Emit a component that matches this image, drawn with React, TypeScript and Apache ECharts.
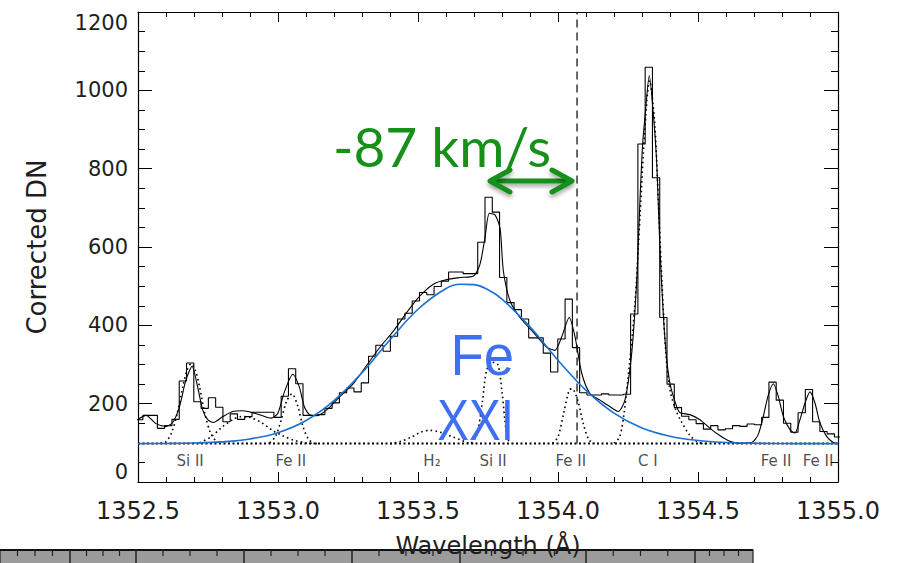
import React, { useEffect, useRef } from "react";
import * as echarts from "echarts";

// ---- axis ranges ----
const WAVE_MIN = 1352.5;
const WAVE_MAX = 1355.0;
const WAVE_TICK = 0.5;
const DN_MIN = 0;
const DN_MAX = 1200;
const DN_TICK = 200;

// ---- observed spectrum (histogram), IRIS spectral bins ----
const BIN_START = 1352.4913;
const BIN_WIDTH = 0.026;
const observedCounts = [
  159, 170, 170, 137, 144, 160, 258, 304, 205, 188,
  215, 191, 154, 174, 160, 167, 178, 178, 178, 165,
  219, 289, 251, 170, 170, 172, 188, 202, 228, 240,
  230, 253, 321, 349, 334, 372, 416, 431, 462, 484,
  478, 499, 513, 536, 536, 532, 532, 612,
  727, 689, 522, 458, 440, 416, 368, 368, 329, 281,
  365, 467, 343, 228, 222, 222, 225, 222, 222, 224,
  429, 863, 1059, 777, 420, 250, 190, 168, 159, 149,
  135, 144, 133, 136, 144, 142, 148, 146, 165, 255,
  209, 150, 127, 177, 236, 154, 129, 123, 115,
];

// ---- total fit (solid black) ----
const fitWave = [
  1352.500, 1352.529, 1352.564, 1352.600, 1352.624, 1352.648, 1352.671, 1352.693, 1352.713, 1352.731,
  1352.749, 1352.769, 1352.803, 1352.838, 1352.874, 1352.910, 1352.945, 1352.975, 1352.999, 1353.023,
  1353.053, 1353.076, 1353.094, 1353.114, 1353.138, 1353.174, 1353.221, 1353.269, 1353.317, 1353.364,
  1353.412, 1353.460, 1353.507, 1353.555, 1353.603, 1353.650, 1353.698, 1353.721, 1353.739, 1353.755,
  1353.775, 1353.793, 1353.805, 1353.829, 1353.864, 1353.912, 1353.960, 1353.989, 1354.013, 1354.040,
  1354.061, 1354.085, 1354.114, 1354.150, 1354.186, 1354.215, 1354.239, 1354.263, 1354.281, 1354.293,
  1354.302, 1354.311, 1354.326, 1354.341, 1354.353, 1354.364, 1354.376, 1354.386, 1354.400, 1354.424,
  1354.436, 1354.471, 1354.507, 1354.543, 1354.579, 1354.614, 1354.650, 1354.692, 1354.715, 1354.733,
  1354.751, 1354.769, 1354.787, 1354.805, 1354.829, 1354.846, 1354.864, 1354.882, 1354.900, 1354.918,
  1354.936, 1354.960, 1354.983, 1355.000,
];
const fitValue = [
  160, 170, 149, 142, 152, 192, 260, 295, 243, 184,
  159, 152, 167, 180, 182, 177, 169, 163, 175, 230,
  275, 243, 192, 171, 169, 184, 218, 251, 298, 344,
  385, 433, 475, 505, 517, 522, 526, 555, 623, 686,
  682, 648, 538, 462, 420, 382, 344, 336, 370, 420,
  370, 277, 226, 209, 192, 180, 209, 327, 513, 724,
  859, 935, 1038, 935, 808, 597, 429, 330, 251, 192,
  177, 172, 159, 137, 118, 104, 99, 101, 121, 167,
  222, 251, 218, 167, 133, 125, 159, 201, 230, 201,
  150, 116, 101, 98,
];

// ---- Fe XXI component (blue) ----
const feXXIWave = [
  1352.5, 1352.6, 1352.7, 1352.8, 1352.9, 1353.0, 1353.1, 1353.2, 1353.3, 1353.4,
  1353.5, 1353.6, 1353.65, 1353.7, 1353.75, 1353.8, 1353.9, 1354.0, 1354.1, 1354.2,
  1354.3, 1354.4, 1354.5, 1354.6, 1354.7, 1354.8, 1354.9, 1355.0,
];
const feXXIValue = [
  98, 98.4, 99.5, 102.5, 110, 126, 157, 208, 279, 363,
  441, 494, 505, 504, 491, 467, 396, 311, 234, 176,
  138, 117, 106, 101, 99, 98.3, 98, 98,
];

// ---- narrow line components (dotted) ----
const BASELINE = 98;
const componentWaves = [
  [1352.58, 1352.60, 1352.62, 1352.64, 1352.66, 1352.675, 1352.69, 1352.705, 1352.72, 1352.74, 1352.76, 1352.78, 1352.80],
  [1352.72, 1352.76, 1352.80, 1352.84, 1352.87, 1352.90, 1352.94, 1352.98, 1353.02, 1353.06, 1353.10, 1353.14],
  [1352.97, 1352.99, 1353.01, 1353.03, 1353.05, 1353.07, 1353.09, 1353.11, 1353.13],
  [1353.40, 1353.44, 1353.48, 1353.51, 1353.54, 1353.58, 1353.62, 1353.65, 1353.68, 1353.71],
  [1353.69, 1353.71, 1353.73, 1353.745, 1353.765, 1353.785, 1353.80, 1353.81, 1353.82, 1353.835],
  [1353.98, 1354.00, 1354.02, 1354.04, 1354.05, 1354.07, 1354.09, 1354.11, 1354.13],
  [1354.20, 1354.22, 1354.235, 1354.255, 1354.275, 1354.293, 1354.31, 1354.327, 1354.345, 1354.36, 1354.372, 1354.385, 1354.40, 1354.42, 1354.44, 1354.47, 1354.50, 1354.53],
];
const componentValues = [
  [98.5, 103, 126, 175, 243, 285, 302, 285, 243, 170, 124, 104, 99],
  [100, 115, 140, 160, 167, 165, 152, 132, 117, 106, 100, 98],
  [100, 115, 155, 205, 225, 195, 140, 108, 99],
  [98, 104, 116, 127, 132, 127, 116, 108, 100, 98],
  [99, 120, 205, 285, 306, 300, 230, 160, 110, 99],
  [99, 115, 175, 235, 238, 210, 150, 108, 99],
  [99, 115, 170, 300, 455, 680, 900, 1025, 920, 690, 500, 330, 235, 185, 155, 120, 102, 98],
];

// ---- line identifications ----
const lineNames = ["Si II", "Fe II", "H₂", "Si II", "Fe II", "C I", "Fe II", "Fe II"];
const lineLabelWave = [1352.686, 1353.046, 1353.550, 1353.768, 1354.046, 1354.321, 1354.779, 1354.929];
const LABEL_DN = 53;

// ---- reference (rest) wavelength ----
const REST_WAVE = 1354.068;

const AXIS_FONT = "'DejaVu Sans', sans-serif";
const TITLE_FONT = "Lato, 'Open Sans', sans-serif";
const ANNOT_FONT = "'Liberation Sans', Arial, sans-serif";
const GREEN = "#17901a";
const BLUE_TEXT = "#3f6ff2";
const BLUE_LINE = "#1c6fd3";
const INK = "#1e1e1e";

export default function App() {
  const ref = useRef<HTMLDivElement>(null);

  useEffect(() => {
    if (!ref.current) return;
    const chart = echarts.init(ref.current, null, { renderer: "svg" });

    const histData: number[][] = observedCounts.map((v, i) => [BIN_START + i * BIN_WIDTH, v]);
    histData.push([BIN_START + observedCounts.length * BIN_WIDTH, observedCounts[observedCounts.length - 1]]);

    const fitData = fitWave.map((w, i) => [w, fitValue[i]]);
    const feData = feXXIWave.map((w, i) => [w, feXXIValue[i]]);

    const dotted = { color: "#000", width: 1.6, type: [1.6, 3.2] as number[] };

    const componentSeries = componentWaves.map((ws, j) => ({
      type: "line",
      data: ws.map((w, i) => [w, componentValues[j][i]]),
      smooth: 0.3,
      showSymbol: false,
      silent: true,
      lineStyle: dotted,
      z: 3,
    }));

    // decorative ruler strip at the bottom of the picture
    const rulerMajors = [0, 70, 136, 244, 352, 460, 586, 695, 753];
    const rulerChildren: any[] = [
      { type: "rect", shape: { x: 0, y: 550, width: 753, height: 14 }, style: { fill: "#9b9b9b", stroke: "#222", lineWidth: 1.2 } },
      { type: "line", shape: { x1: 0, y1: 550, x2: 753, y2: 550 }, style: { stroke: "#111", lineWidth: 2 } },
    ];
    for (let i = 0; i < rulerMajors.length - 1; i++) {
      const a = rulerMajors[i];
      const b = rulerMajors[i + 1];
      if (i > 0) rulerChildren.push({ type: "line", shape: { x1: a, y1: 550, x2: a, y2: 563 }, style: { stroke: "#222", lineWidth: 1.5 } });
      for (let k = 1; k < 4; k++) {
        const x = a + ((b - a) * k) / 4;
        rulerChildren.push({ type: "line", shape: { x1: x, y1: 550, x2: x, y2: 556 }, style: { stroke: "#222", lineWidth: 1.2 } });
      }
    }

    const shadow = { shadowBlur: 4, shadowColor: "rgba(0,0,0,0.35)", shadowOffsetY: 3 };
    const chevronStyle = {
      stroke: GREEN,
      lineWidth: 5,
      fill: null,
      lineCap: "round",
      lineJoin: "round",
      ...shadow,
    };

    const axisCommonX = {
      type: "value",
      min: WAVE_MIN,
      max: WAVE_MAX,
      interval: WAVE_TICK,
      axisLine: { show: true, onZero: false, lineStyle: { color: "#000", width: 1.2 } },
      axisTick: { show: true, inside: true, length: 10, lineStyle: { color: "#000", width: 1 } },
      minorTick: { show: true, splitNumber: 5, length: 5, lineStyle: { color: "#000", width: 1 } },
      splitLine: { show: false },
      minorSplitLine: { show: false },
    };
    const axisCommonY = {
      type: "value",
      min: DN_MIN,
      max: DN_MAX,
      interval: DN_TICK,
      axisLine: { show: true, onZero: false, lineStyle: { color: "#000", width: 1.2 } },
      axisTick: { show: true, inside: true, length: 14, lineStyle: { color: "#000", width: 1 } },
      minorTick: { show: true, splitNumber: 4, length: 7, lineStyle: { color: "#000", width: 1 } },
      splitLine: { show: false },
      minorSplitLine: { show: false },
    };

    const option: any = {
      animation: false,
      backgroundColor: "#fff",
      grid: { left: 138, right: 59, top: 12, bottom: 77, containLabel: false },
      xAxis: [
        {
          ...axisCommonX,
          position: "bottom",
          name: "Wavelength (Å)",
          nameLocation: "middle",
          nameGap: 52,
          nameTextStyle: { fontFamily: AXIS_FONT, fontSize: 24, color: INK },
          axisLabel: {
            show: true,
            margin: 17,
            fontFamily: AXIS_FONT,
            fontSize: 24,
            color: INK,
            formatter: (v: number) => v.toFixed(1),
          },
        },
        { ...axisCommonX, position: "top", axisLabel: { show: false } },
      ],
      yAxis: [
        {
          ...axisCommonY,
          position: "left",
          name: "Corrected DN",
          nameLocation: "middle",
          nameRotate: 90,
          nameGap: 88,
          nameTextStyle: { fontFamily: AXIS_FONT, fontSize: 26, color: INK },
          axisLabel: {
            show: true,
            margin: 10,
            fontFamily: AXIS_FONT,
            fontSize: 21,
            color: INK,
            formatter: (v: number) => String(v),
            verticalAlignMinLabel: "bottom",
            verticalAlignMaxLabel: "top",
          },
        },
        { ...axisCommonY, position: "right", axisLabel: { show: false } },
      ],
      series: [
        {
          type: "line",
          data: histData,
          step: "end",
          showSymbol: false,
          silent: true,
          lineStyle: { color: "#000", width: 1.1 },
          z: 2,
        },
        {
          type: "line",
          data: fitData,
          smooth: 0.25,
          showSymbol: false,
          silent: true,
          lineStyle: { color: "#000", width: 1.1 },
          z: 4,
        },
        ...componentSeries,
        {
          type: "line",
          data: [[WAVE_MIN, BASELINE], [WAVE_MAX, BASELINE]],
          showSymbol: false,
          silent: true,
          lineStyle: { color: "#000", width: 2, type: [2, 2.5] },
          z: 3,
        },
        {
          type: "line",
          data: feData,
          smooth: 0.4,
          showSymbol: false,
          silent: true,
          lineStyle: { color: BLUE_LINE, width: 1.6 },
          z: 5,
        },
        {
          type: "line",
          data: [[REST_WAVE, BASELINE], [REST_WAVE, DN_MAX]],
          showSymbol: false,
          silent: true,
          lineStyle: { color: "#000", width: 1.2, type: [8, 5] },
          z: 5,
        },
        {
          type: "scatter",
          data: lineLabelWave.map((w, i) => ({ value: [w, LABEL_DN], name: lineNames[i] })),
          symbolSize: 1,
          silent: true,
          itemStyle: { color: "rgba(0,0,0,0)" },
          label: {
            show: true,
            position: "inside",
            formatter: "{b}",
            fontFamily: AXIS_FONT,
            fontSize: 15,
            lineHeight: 15,
            color: INK,
          },
          z: 6,
        },
      ],
      graphic: [
        { type: "group", z: -10, children: rulerChildren },
        {
          type: "text",
          x: 333,
          y: 146,
          z: 20,
          style: { text: "-87 km/s", fontFamily: TITLE_FONT, fontSize: 55, lineHeight: 50, fill: GREEN, textAlign: "left", textVerticalAlign: "middle" },
        },
        {
          type: "group",
          z: 20,
          children: [
            { type: "rect", shape: { x: 494, y: 178.5, width: 74, height: 5 }, style: { fill: GREEN, ...shadow } },
            { type: "polyline", shape: { points: [[510, 170], [490, 181], [510, 192]] }, style: chevronStyle },
            { type: "polyline", shape: { points: [[552, 170], [572, 181], [552, 192]] }, style: chevronStyle },
          ],
        },
        {
          type: "text",
          x: 514,
          y: 355,
          z: 20,
          scaleX: 0.94,
          style: { text: "Fe", fontFamily: ANNOT_FONT, fontSize: 58, fill: BLUE_TEXT, textAlign: "right", textVerticalAlign: "middle" },
        },
        {
          type: "text",
          x: 514,
          y: 420,
          z: 20,
          scaleX: 0.82,
          style: { text: "XXI", fontFamily: ANNOT_FONT, fontSize: 58, fill: BLUE_TEXT, textAlign: "right", textVerticalAlign: "middle" },
        },
      ],
    };

    chart.setOption(option);
    return () => chart.dispose();
  }, []);

  return (
    <div
      ref={ref}
      style={{ position: "absolute", left: 0, top: 0, width: 897, height: 563, background: "#fff" }}
    />
  );
}
